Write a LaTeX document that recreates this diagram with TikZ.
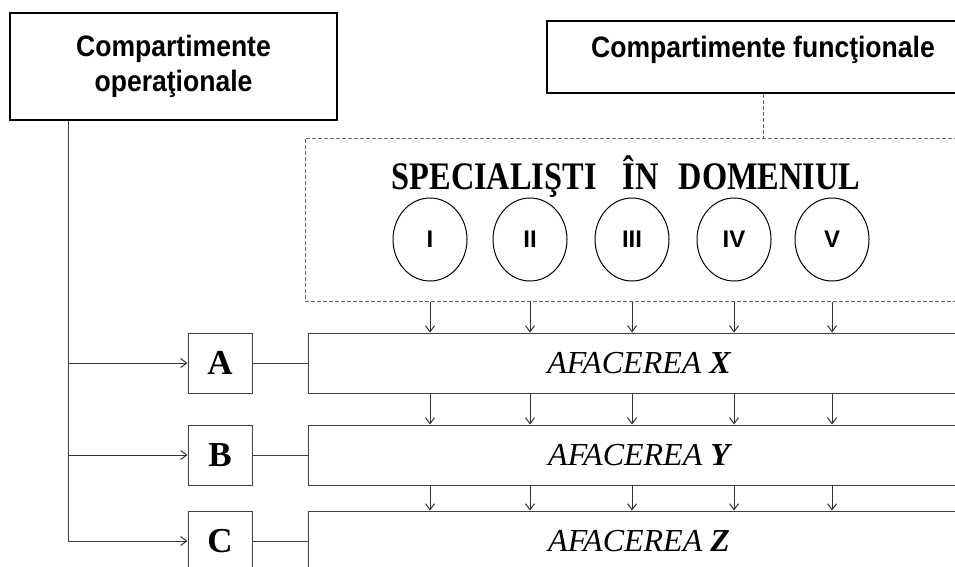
\documentclass[tikz,border=0pt]{standalone}
\usepackage{fontspec}
\setmainfont{Liberation Serif}
\newfontfamily\headfont[FakeStretch=0.9]{Liberation Sans}
\newfontfamily\romfont{Liberation Sans}
\newfontfamily\specfont[FakeStretch=0.83]{Liberation Serif}
\usetikzlibrary{arrows.meta,shapes.geometric,positioning}

\tikzset{
  headbox/.style={draw=black,line width=1.8pt,align=center,inner sep=0pt,
    font={\headfont\bfseries\fontsize{29.5}{35}\selectfont}},
  specbox/.style={draw=black!60,line width=1pt,dash pattern=on 4pt off 2pt,
    minimum width=716pt,minimum height=163pt},
  dom/.style={draw=black,line width=1pt,ellipse,inner sep=0pt,
    minimum width=74pt,minimum height=83pt,
    font={\romfont\bfseries\fontsize{24}{28}\selectfont}},
  letbox/.style={draw=black!75,line width=1pt,minimum width=64pt,minimum height=60pt,
    inner sep=0pt,font={\bfseries\fontsize{35}{40}\selectfont}},
  bizbox/.style={draw=black!75,line width=1pt,minimum width=662pt,minimum height=60pt,
    inner sep=0pt,font={\itshape\fontsize{32}{38}\selectfont}},
  line/.style={draw=black!75,line width=1pt},
  arr/.style={draw=black!80,line width=1pt,-{Straight Barb[length=6pt,width=9pt]}},
  dashline/.style={draw=black!60,line width=1pt,dash pattern=on 4pt off 2pt}
}

\begin{document}
\begin{tikzpicture}[x=1pt,y=-1pt]
		\clip (0,0) rectangle (955,566);
		%\draw [help lines] (0,0) grid[step=50] (955,566);
		\node [headbox,minimum width=327pt,minimum height=107pt] (oper) at (173.5,66.5) {Compartimente\\operaţionale};
		\node [headbox,minimum width=432pt,minimum height=72pt,text height=11pt,text depth=11pt] (funct) at (763,57) {Compartimente funcţionale};
		\node [specbox] (spec) at (663,219.5) {};
		\node [anchor=base,font={\specfont\bfseries\fontsize{39}{44}\selectfont}] (title) at (626,189)
			{SPECIALIŞTI\hspace{26pt}ÎN\hspace{20pt}DOMENIUL};
		\draw [dashline] (funct.south) -- (funct.south |- spec.north);
		%the five domains
		\foreach \n/\x in {I/430,II/530,III/632,IV/734,V/832}
			\node [dom] (d\n) at (\x,239.5) {\n};
		%businesses and their operational units
		\foreach \r/\y/\l in {A/363/X,B/455/Y,C/541/Z} {
			\node [letbox] (\r) at (220,\y) {\r};
			\node [bizbox] (biz\r) at (639,\y) {AFACEREA \textbf{\l}};
			\draw [line] (\r) -- (biz\r);
		}
		\foreach \n in {I,II,III,IV,V} {
			\draw [arr] (d\n |- spec.south) -- (d\n |- bizA.north);
			\draw [arr] (d\n |- bizA.south) -- (d\n |- bizB.north);
			\draw [arr] (d\n |- bizB.south) -- (d\n |- bizC.north);
		}
		%the operational trunk
		\coordinate (trunk) at (68,0);
		\draw [line] (trunk |- oper.south) -- (trunk |- C.west);
		\foreach \r in {A,B,C}
			\draw [arr] (trunk |- \r.west) -- (\r.west);
\end{tikzpicture}
\end{document}
